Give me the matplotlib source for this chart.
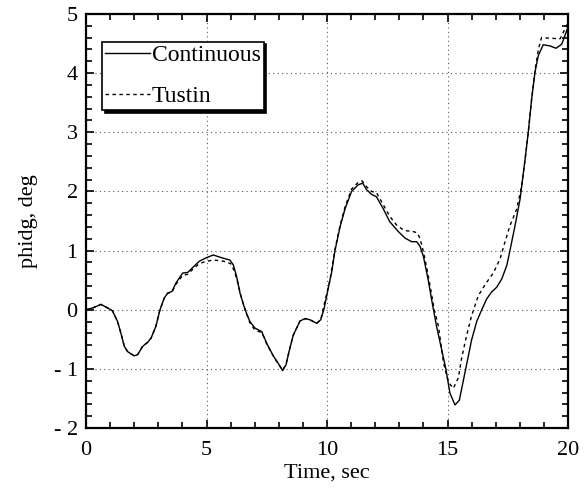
import matplotlib
matplotlib.use("Agg")

import matplotlib.pyplot as plt
from matplotlib.ticker import MultipleLocator, FuncFormatter

plt.rcParams["font.family"] = ["Liberation Serif", "DejaVu Serif"]

# Continuous response
t_cont = [0, 0.28, 0.62, 0.9, 1.1, 1.31, 1.45, 1.59, 1.73, 2.0, 2.14, 2.35, 2.56, 2.7,
          2.9, 3.07, 3.25, 3.39, 3.57, 3.73, 4.01, 4.22, 4.42, 4.7, 5.0, 5.28, 5.7, 5.97,
          6.11, 6.25, 6.39, 6.6, 6.8, 7.01, 7.29, 7.5, 7.77, 7.98, 8.16, 8.3, 8.44, 8.6,
          8.88, 9.09, 9.29, 9.57, 9.74, 9.88, 10.05, 10.2, 10.33, 10.54, 10.75, 11.02,
          11.29, 11.48, 11.64, 11.85, 12.05, 12.33, 12.6, 12.96, 13.24, 13.51, 13.72,
          13.86, 14.0, 14.2, 14.38, 14.55, 14.76, 14.94, 15.1, 15.31, 15.49, 15.66, 15.8,
          16.0, 16.21, 16.42, 16.62, 16.83, 17.04, 17.25, 17.46, 17.59, 17.8, 18.01,
          18.22, 18.35, 18.49, 18.63, 18.77, 18.97, 19.25, 19.5, 19.74, 20.0]
phidg_cont = [0, 0.03, 0.09, 0.03, -0.02, -0.2, -0.4, -0.62, -0.71, -0.78, -0.76, -0.62,
              -0.55, -0.48, -0.28, 0, 0.2, 0.28, 0.31, 0.45, 0.62, 0.63, 0.71, 0.82, 0.88,
              0.925, 0.87, 0.84, 0.76, 0.56, 0.28, 0, -0.2, -0.31, -0.37, -0.57, -0.78,
              -0.91, -1.03, -0.93, -0.68, -0.43, -0.19, -0.15, -0.17, -0.23, -0.17, 0.02,
              0.36, 0.65, 1.0, 1.4, 1.71, 2.0, 2.11, 2.14, 2.03, 1.95, 1.91, 1.71, 1.49,
              1.32, 1.21, 1.15, 1.15, 1.07, 0.9, 0.5, 0.08, -0.29, -0.68, -1.02, -1.41,
              -1.61, -1.53, -1.19, -0.91, -0.51, -0.2, 0.0, 0.18, 0.3, 0.38, 0.52, 0.75,
              1.0, 1.42, 1.87, 2.55, 3.0, 3.56, 4.02, 4.3, 4.48, 4.46, 4.42, 4.49, 4.78]

# Tustin discretisation
t_tustin = [0, 0.28, 0.62, 0.9, 1.1, 1.31, 1.45, 1.59, 1.73, 2.0, 2.14, 2.35, 2.56, 2.7,
            2.9, 3.07, 3.25, 3.39, 3.57, 3.73, 4.01, 4.22, 4.42, 4.7, 5.0, 5.3, 5.7, 6.0,
            6.15, 6.3, 6.45, 6.62, 6.8, 7.0, 7.3, 7.5, 7.77, 7.98, 8.16, 8.3, 8.44, 8.6,
            8.88, 9.09, 9.29, 9.57, 9.74, 9.9, 10.12, 10.33, 10.54, 10.75, 11.02, 11.29,
            11.45, 11.64, 11.85, 12.05, 12.3, 12.6, 12.89, 13.2, 13.58, 13.75, 13.86,
            14.0, 14.14, 14.3, 14.45, 14.62, 14.83, 15.03, 15.24, 15.45, 15.58, 15.79,
            16.0, 16.28, 16.6, 16.9, 17.18, 17.38, 17.59, 17.87, 18.08, 18.22, 18.35,
            18.49, 18.63, 18.77, 18.9, 19.25, 19.67, 20.0]
phidg_tustin = [0, 0.03, 0.09, 0.03, -0.02, -0.2, -0.4, -0.62, -0.71, -0.78, -0.76, -0.62,
                -0.55, -0.48, -0.28, 0, 0.2, 0.28, 0.3, 0.43, 0.58, 0.6, 0.68, 0.78, 0.82,
                0.84, 0.82, 0.78, 0.66, 0.45, 0.2, -0.02, -0.22, -0.34, -0.39, -0.58,
                -0.78, -0.92, -1.02, -0.92, -0.68, -0.43, -0.19, -0.15, -0.17, -0.23,
                -0.17, 0.12, 0.5, 1.02, 1.42, 1.74, 2.04, 2.15, 2.18, 2.08, 2.0, 1.98,
                1.8, 1.58, 1.43, 1.34, 1.32, 1.3, 1.2, 0.98, 0.7, 0.35, 0.0, -0.27, -0.89,
                -1.22, -1.33, -1.15, -0.83, -0.44, -0.1, 0.24, 0.45, 0.62, 0.86, 1.14,
                1.42, 1.7, 2.1, 2.55, 3.0, 3.56, 4.05, 4.4, 4.6, 4.59, 4.58, 4.85]

fig = plt.figure(figsize=(5.85, 4.9), dpi=100)
ax = fig.add_axes([0.147, 0.1265, 0.824, 0.845])

ax.plot(t_cont, phidg_cont, color="black", linewidth=1.0, label="Continuous")
ax.plot(t_tustin, phidg_tustin, color="black", linewidth=1.0, linestyle=(0, (2.5, 2.5)),
        label="Tustin")

ax.set_xlim(0, 20)
ax.set_ylim(-2, 5)
ax.xaxis.set_major_locator(MultipleLocator(5))
ax.xaxis.set_minor_locator(MultipleLocator(1))
ax.yaxis.set_major_locator(MultipleLocator(1))
ax.yaxis.set_minor_locator(MultipleLocator(0.2))
fmt = FuncFormatter(lambda v, pos: f"- {abs(int(round(v)))}" if v < 0 else f"{int(round(v))}")
ax.xaxis.set_major_formatter(fmt)
ax.yaxis.set_major_formatter(fmt)

ax.tick_params(which="both", direction="in", top=True, right=True, labelsize=16,
               width=1.2, colors="black")
ax.tick_params(which="major", length=6, pad=6)
ax.tick_params(axis="x", which="major", pad=9)
ax.tick_params(which="minor", length=4)
for sp in ax.spines.values():
    sp.set_linewidth(1.6)

ax.grid(which="major", color="0.35", linestyle=(0, (1, 3)), linewidth=0.8)

ax.set_xlabel("Time, sec", fontsize=16, labelpad=3)
ax.set_ylabel("phidg, deg", fontsize=16, labelpad=11)

ax.legend(loc="upper left", bbox_to_anchor=(0.033, 0.933), fontsize=17,
          fancybox=False, edgecolor="black", framealpha=1,
          shadow={"color": "black", "alpha": 1}, handlelength=1.9,
          labelspacing=0.82, borderpad=0.12, handletextpad=0.1, borderaxespad=0)
leg = ax.get_legend()
leg.get_frame().set_linewidth(1.2)

fig.savefig("out.png", dpi=100)
